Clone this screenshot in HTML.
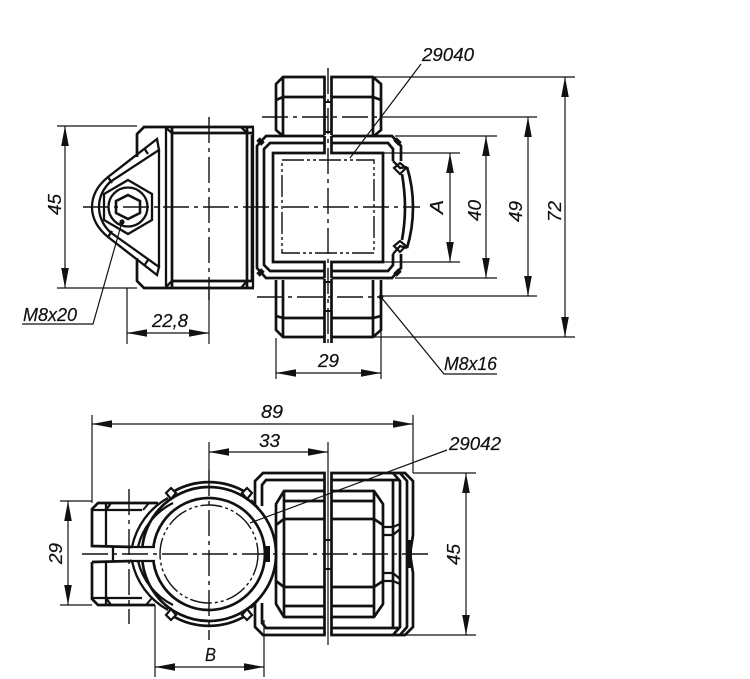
<!DOCTYPE html>
<html><head><meta charset="utf-8"><style>
html,body{margin:0;padding:0;background:#fff}
svg{display:block}
text{font-family:"Liberation Sans",sans-serif;font-style:italic;font-size:18px;fill:#111;stroke:#111;stroke-width:.2}
.k{fill:none;stroke:#111;stroke-width:2.700;stroke-linejoin:miter}
.m{fill:none;stroke:#111;stroke-width:2.300}
.t{fill:none;stroke:#111;stroke-width:1.200}
.c{fill:none;stroke:#111;stroke-width:1.400;stroke-dasharray:26 5 4 5}
.a{fill:#111;stroke:none}
</style></head><body>
<svg width="750" height="679" viewBox="0 0 750 679" xmlns="http://www.w3.org/2000/svg">
<defs>
<path id="ar" class="a" d="M0 0L3.800 20H-3.800Z"/>
</defs>

<!-- TOP VIEW: left body -->
<g class="k">
<path d="M254 127H144L137 134V157M137 258V281L144 288H254"/>
<path d="M172 133H252M172 281H252"/>
<path d="M172 128V287M247 128V287"/>
</g>
<g class="m">
<path d="M166 128V287M253 128V287M166 128L172 133M166 287L172 281M241 127L247 133M247 281L241 288M159 150V267"/>
<path d="M157 139L108 177C97 186 92 196 92 207C92 218 97 228 108 237L157 275L159 267L110 232C103 225 99 217 99 207C99 197 103 189 110 182L159 150Z"/>
<path d="M108 177L112 183M108 237L112 231M144 148L148 154M144 266L148 260"/>
<path d="M128 180L152 194V220L128 234L104 220V194Z"/>
<circle cx="128" cy="207" r="19.500"/>
<path d="M128 195L140 201V213L128 219L116 213V201Z" stroke-width="2.600"/>
</g>
<circle class="a" cx="122" cy="222" r="2.600"/>

<!-- TOP VIEW: upper and lower bolts -->
<g class="k">
<path d="M324.500 136V77H283L276 84V130L283 136M331.500 136V77H373L381 84V130L374 136"/>
<path d="M283 77V136M373 77V136M276 100L283 97H324.500M381 100L373 97H331.500"/>
<path d="M324.500 343V278M331.500 343V278M276 280V330L283 337H324.500M381 280V330L373 337H331.500"/>
<path d="M283 280V337M373 280V337M276 316L283 318H324.500M381 316L373 318H331.500"/>
<path d="M324.500 102H331.500M324.500 132H331.500M324.500 282H331.500M324.500 311H331.500" stroke-width="2"/>
</g>

<!-- TOP VIEW: square housing -->
<path d="M262 135H396L401 146V268L396 279H262L256 268V146Z" fill="#fff" stroke="none"/>
<g class="k">
<path d="M324.500 136H266L257 146V268L266 278H324.500M331.500 136H392L401 146V161M401 254V268L392 278H331.500"/>
<path d="M324.500 143H270L264 149V265L270 271H324.500M331.500 143H388L393 149V161M393 254V265L388 271H331.500"/>
<path d="M324.500 136V153H273V262H324.500V278M331.500 136V153H383V262H331.500V278"/>
<path d="M393 161L400 168L407 167M393 254L400 246L407 248" stroke-width="2.300"/>
<path d="M394 168L400 163L406 168L400 174ZM394 246L400 241L406 246L400 252Z" stroke-width="2.200"/>
<path d="M407 167C411 180 413 195 413 207C413 220 411 235 407 248"/>
<path d="M402 174C404 186 405 197 405 207C405 218 404 229 402 240"/>
<path d="M258 139L263 144M258 275L263 270M395 139L400 144M395 275L400 270" stroke-width="5"/>
<path d="M252 135V280"/>
</g>
<rect x="282" y="160" width="92" height="93" fill="none" stroke="#111" stroke-width="1.400" stroke-dasharray="22 3 3 3 3 3"/>

<!-- Centre lines top -->
<path class="c" d="M83 207H420"/>
<path class="c" d="M209 117V300"/>
<path class="c" d="M328 68V347"/>
<path class="c" d="M262 117H380"/>
<path class="c" d="M257 297H380"/>

<!-- Dim lines top -->
<g class="t">
<path d="M57 126H137M57 288H137"/>
<path d="M65 126V288"/>
<path d="M127 288V344M209 288V344M127 333H209"/>
<path d="M276 338V379M381 296V379M276 373H381"/>
<path d="M373 77H575M381 117H537M395 136H497M383 153H460M383 262H460M395 278H497M381 296H537M373 337H575"/>
<path d="M450 153V262M486 136V278M528 117V296M565 77V337"/>
<path d="M421 64L350 158"/>
<path d="M22 324H93L122 222"/>
<path d="M497 374H444L381 297"/>
</g>
<circle class="a" cx="381" cy="297" r="2.400"/>
<use href="#ar" x="65" y="126"/><use href="#ar" transform="translate(65 288) rotate(180)"/>
<use href="#ar" x="450" y="153"/><use href="#ar" transform="translate(450 262) rotate(180)"/>
<use href="#ar" x="486" y="136"/><use href="#ar" transform="translate(486 278) rotate(180)"/>
<use href="#ar" x="528" y="117"/><use href="#ar" transform="translate(528 296) rotate(180)"/>
<use href="#ar" x="565" y="77"/><use href="#ar" transform="translate(565 337) rotate(180)"/>
<use href="#ar" transform="translate(127 333) rotate(-90)"/><use href="#ar" transform="translate(209 333) rotate(90)"/>
<use href="#ar" transform="translate(276 373) rotate(-90)"/><use href="#ar" transform="translate(381 373) rotate(90)"/>

<!-- BOTTOM VIEW: left clamp bolts -->
<g class="k">
<path d="M158 503H98L92 509V546L132 547M92 562L132 561M92 562V599L98 605H155"/>
<path d="M106 504V546M106 562V604M92 510H142M92 598H142M111 503L106 510M111 605L106 598" stroke-width="2.300"/>
<path d="M113 546V562" stroke-width="2.300"/>
<path d="M149 503L143 510M146 605L152 598" stroke-width="2"/>
</g>

<!-- BOTTOM VIEW: outer housing -->
<g class="k">
<path d="M324.500 491V473H263L255 481V510M255 598V627L263 635H324.500V617"/>
<path d="M324.500 480H266L262 485V506M262 603V623L266 628H324.500"/>
<path d="M331.500 491V473H405L413 481V535L410 554L413 573V627L405 635H331.500V617"/>
<path d="M331.500 480H400M331.500 628H400M393 473L400 481V627L393 635M400 473L407 481V627L400 635"/>
<path d="M393 480V628"/>
<path d="M410 540V568" stroke-width="4"/>
<path d="M383 527H393L400 524M383 535H393L400 529M383 573H393L400 579M383 581H393L400 584" stroke-width="2.200"/>
<!-- Inner bolt -->
<path d="M324.500 491H284L276 504V604L284 617H324.500V491M331.500 617V491H374L383 504V604L374 617H331.500Z"/>
<path d="M284 491V617M374 491V617"/>
<path d="M284 501H324.500M331.500 501H374M284 519H324.500M331.500 519H374M284 587H324.500M331.500 587H374M284 606H324.500M331.500 606H374"/>
<path d="M276 525L284 519M276 581L284 587M383 525L374 519M383 581L374 587"/>
<path d="M324.500 540H331.500M324.500 569H331.500" stroke-width="2"/>
</g>

<!-- BOTTOM VIEW: ring -->
<circle cx="209" cy="554" r="67" fill="#fff"/>
<g class="k">
<path d="M171 493A72 72 0 0 1 247 493"/>
<path d="M171 615A72 72 0 0 0 247 615"/>
<path d="M142.500 546A67 67 0 1 1 142.500 562"/>
<path d="M153.500 546A56 56 0 1 1 153.500 562"/>
<path d="M168 498A72 72 0 0 0 132 547" stroke-width="2.300"/>
<path d="M173 503A66 66 0 0 0 138 547" stroke-width="2.300"/>
<path d="M132 561A72 72 0 0 0 168 610" stroke-width="2.300"/>
<path d="M138 561A66 66 0 0 0 173 605" stroke-width="2.300"/>
<path d="M132 547H155M132 561H155" stroke-width="2.300"/>
<path d="M251 500L258 508M251 608L258 600" stroke-width="2.300"/>
<g fill="#fff" stroke-width="2.200">
<path d="M171 488L176 493L171 499L166 493Z"/>
<path d="M247 488L252 493L247 499L242 493Z"/>
<path d="M171 609L176 615L171 620L166 615Z"/>
<path d="M247 609L252 615L247 620L242 615Z"/>
</g>
</g>
<rect x="264" y="546" width="6" height="16" class="a"/>
<circle cx="209" cy="554" r="49" fill="none" stroke="#111" stroke-width="1.400" stroke-dasharray="22 3 3 3 3 3"/>

<!-- Centre lines bottom -->
<path class="c" d="M82 554H430"/>
<path class="c" d="M209 470V640"/>
<path class="c" d="M129 489V624"/>
<path class="t" d="M328 442V645"/>

<!-- Dim lines bottom -->
<g class="t">
<path d="M92 415V503M413 415V473M92 424H413"/>
<path d="M209 442V470M209 452H328"/>
<path d="M60 501H92M60 605H92M68 501V605"/>
<path d="M413 473H476M405 635H476M466 473V635"/>
<path d="M155 605V677M264 620V677M155 667H264"/>
<path d="M447 450L250 523"/>
</g>
<use href="#ar" transform="translate(92 424) rotate(-90)"/><use href="#ar" transform="translate(413 424) rotate(90)"/>
<use href="#ar" transform="translate(209 452) rotate(-90)"/><use href="#ar" transform="translate(328 452) rotate(90)"/>
<use href="#ar" x="68" y="501"/><use href="#ar" transform="translate(68 605) rotate(180)"/>
<use href="#ar" x="466" y="473"/><use href="#ar" transform="translate(466 635) rotate(180)"/>
<use href="#ar" transform="translate(155 667) rotate(-90)"/><use href="#ar" transform="translate(264 667) rotate(90)"/>

<!-- Labels -->
<text x="422" y="61" textLength="52" lengthAdjust="spacingAndGlyphs">29040</text>
<text x="23" y="321" textLength="54" lengthAdjust="spacingAndGlyphs">M8x20</text>
<text x="152" y="327" textLength="36" lengthAdjust="spacingAndGlyphs">22,8</text>
<text x="318" y="367" textLength="21" lengthAdjust="spacingAndGlyphs">29</text>
<text x="444" y="370" textLength="53" lengthAdjust="spacingAndGlyphs">M8x16</text>
<text x="261" y="418" textLength="22" lengthAdjust="spacingAndGlyphs">89</text>
<text x="259" y="447" textLength="21" lengthAdjust="spacingAndGlyphs">33</text>
<text x="449" y="450" textLength="52" lengthAdjust="spacingAndGlyphs">29042</text>
<text x="205" y="661" textLength="11" lengthAdjust="spacingAndGlyphs">B</text>
<text transform="translate(61 215) rotate(-90)" textLength="21" lengthAdjust="spacingAndGlyphs">45</text>
<text transform="translate(443 214) rotate(-90)" textLength="14" lengthAdjust="spacingAndGlyphs">A</text>
<text transform="translate(481 221) rotate(-90)" textLength="21" lengthAdjust="spacingAndGlyphs">40</text>
<text transform="translate(522 222) rotate(-90)" textLength="21" lengthAdjust="spacingAndGlyphs">49</text>
<text transform="translate(561 222) rotate(-90)" textLength="21" lengthAdjust="spacingAndGlyphs">72</text>
<text transform="translate(62 564) rotate(-90)" textLength="21" lengthAdjust="spacingAndGlyphs">29</text>
<text transform="translate(460 565) rotate(-90)" textLength="21" lengthAdjust="spacingAndGlyphs">45</text>
</svg>
</body></html>
